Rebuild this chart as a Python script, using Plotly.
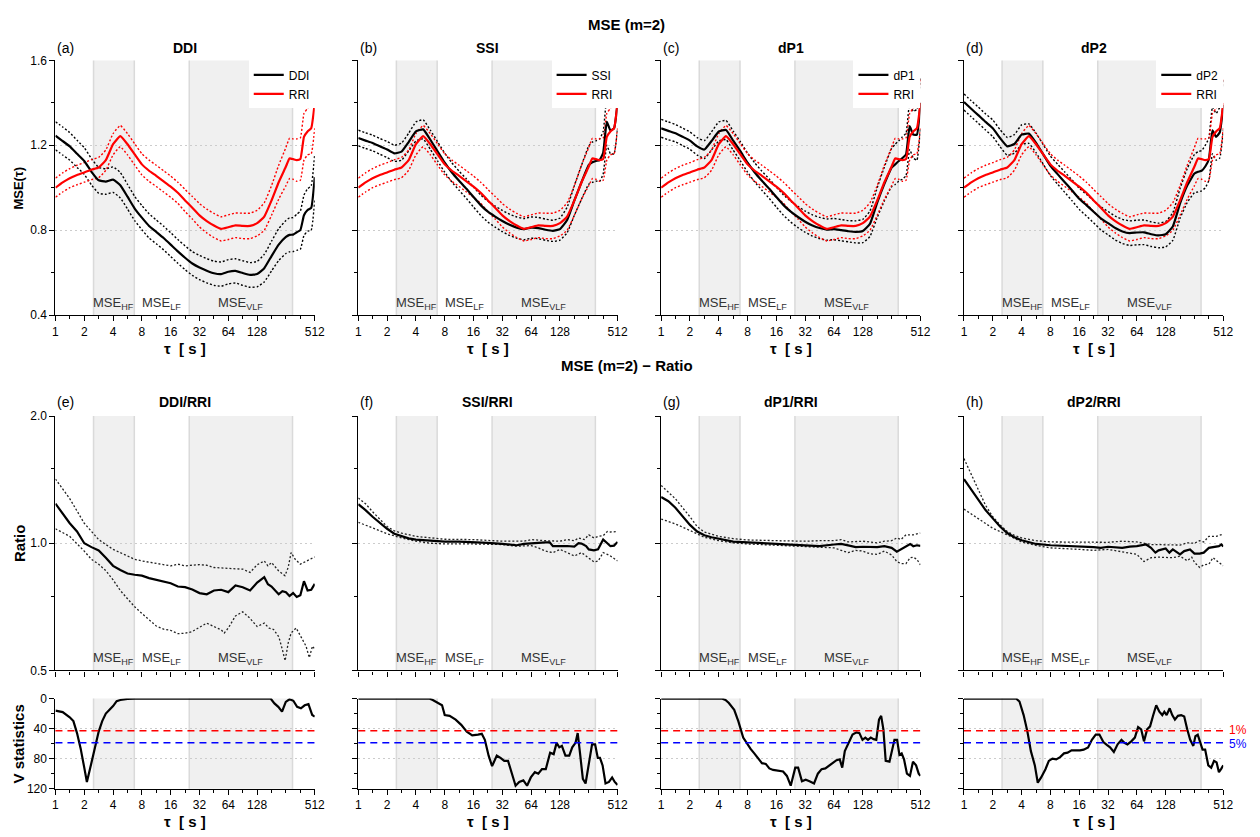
import math
import plotly.graph_objects as go

# ---------------- data ----------------
TAU = [1, 1.19, 1.41, 1.68, 2, 2.38, 2.83, 3.36, 4, 4.76, 5.66, 6.73, 8, 9.51, 11.3, 13.5,
       16, 19, 22.6, 26.9, 32, 38.1, 45.3, 53.8, 64, 76.1, 90.5, 108, 128, 152, 181, 215,
       256, 279, 304, 332, 362, 395, 431, 470, 512]

RRI_MSE = [1.00, 1.025, 1.045, 1.06, 1.072, 1.085, 1.095, 1.13, 1.205, 1.243, 1.205, 1.157,
           1.11, 1.08, 1.056, 1.03, 1.005, 0.976, 0.94, 0.906, 0.87, 0.843, 0.822, 0.806,
           0.814, 0.823, 0.82, 0.82, 0.833, 0.864, 0.94, 1.026, 1.10, 1.138, 1.135, 1.13,
           1.135, 1.24, 1.265, 1.28, 1.40]
RRI_SD = [0.045, 0.045, 0.045, 0.046, 0.046, 0.047, 0.048, 0.048, 0.05, 0.05, 0.05, 0.05,
          0.05, 0.05, 0.05, 0.05, 0.05, 0.05, 0.052, 0.053, 0.055, 0.056, 0.057, 0.057,
          0.058, 0.058, 0.06, 0.06, 0.06, 0.065, 0.07, 0.08, 0.09, 0.095, 0.095, 0.10,
          0.10, 0.11, 0.11, 0.12, 0.12]

DDI_MSE = [1.245, 1.22, 1.195, 1.16, 1.126, 1.075, 1.035, 1.029, 1.038, 1.012, 0.958, 0.902,
           0.859, 0.82, 0.792, 0.763, 0.732, 0.70, 0.67, 0.643, 0.624, 0.609, 0.597, 0.593,
           0.604, 0.608, 0.598, 0.589, 0.593, 0.621, 0.678, 0.732, 0.768, 0.778, 0.779,
           0.79, 0.80, 0.87, 0.895, 0.905, 1.05]
DDI_SD = [0.066, 0.066, 0.065, 0.064, 0.063, 0.062, 0.061, 0.06, 0.06, 0.06, 0.058, 0.057,
          0.057, 0.057, 0.056, 0.056, 0.056, 0.056, 0.056, 0.056, 0.057, 0.057, 0.057, 0.057,
          0.057, 0.057, 0.058, 0.058, 0.06, 0.065, 0.07, 0.075, 0.078, 0.08, 0.08, 0.085,
          0.09, 0.095, 0.10, 0.105, 0.11]

SSI_MSE = [1.234, 1.222, 1.211, 1.195, 1.18, 1.162, 1.17, 1.215, 1.265, 1.275, 1.226, 1.172,
           1.118, 1.072, 1.033, 0.995, 0.956, 0.918, 0.887, 0.864, 0.843, 0.825, 0.812,
           0.805, 0.812, 0.81, 0.802, 0.797, 0.805, 0.848, 0.94, 1.026, 1.107, 1.12, 1.126,
           1.13, 1.165, 1.31, 1.27, 1.28, 1.40]
SSI_SD = [0.037, 0.037, 0.037, 0.037, 0.038, 0.038, 0.04, 0.042, 0.045, 0.045, 0.045, 0.045,
          0.045, 0.045, 0.045, 0.046, 0.047, 0.048, 0.049, 0.05, 0.05, 0.05, 0.05, 0.05,
          0.05, 0.05, 0.05, 0.05, 0.052, 0.06, 0.07, 0.08, 0.09, 0.095, 0.095, 0.10, 0.10,
          0.11, 0.11, 0.12, 0.12]

DP1_MSE = [1.28, 1.268, 1.257, 1.24, 1.222, 1.195, 1.18, 1.22, 1.265, 1.272, 1.222, 1.172,
           1.118, 1.072, 1.033, 0.995, 0.956, 0.918, 0.887, 0.862, 0.84, 0.822, 0.81, 0.803,
           0.805, 0.80, 0.795, 0.792, 0.796, 0.83, 0.93, 1.018, 1.095, 1.11, 1.126, 1.14,
           1.157, 1.29, 1.25, 1.25, 1.40]
DP1_SD = [0.042, 0.042, 0.041, 0.041, 0.041, 0.041, 0.042, 0.043, 0.045, 0.045, 0.045, 0.045,
          0.045, 0.045, 0.045, 0.046, 0.047, 0.048, 0.049, 0.05, 0.05, 0.05, 0.05, 0.05,
          0.05, 0.05, 0.05, 0.052, 0.055, 0.06, 0.07, 0.08, 0.09, 0.095, 0.095, 0.10, 0.10,
          0.11, 0.11, 0.12, 0.12]

DP2_MSE = [1.404, 1.372, 1.342, 1.31, 1.28, 1.234, 1.195, 1.206, 1.25, 1.255, 1.211, 1.157,
           1.103, 1.064, 1.026, 0.987, 0.948, 0.918, 0.887, 0.856, 0.833, 0.81, 0.794,
           0.786, 0.789, 0.79, 0.781, 0.775, 0.781, 0.817, 0.926, 1.01, 1.067, 1.075, 1.08,
           1.10, 1.134, 1.27, 1.24, 1.26, 1.39]
DP2_SD = [0.038, 0.038, 0.038, 0.038, 0.039, 0.04, 0.042, 0.044, 0.046, 0.046, 0.046, 0.046,
          0.046, 0.047, 0.048, 0.049, 0.05, 0.051, 0.052, 0.054, 0.055, 0.056, 0.057, 0.058,
          0.058, 0.058, 0.058, 0.058, 0.06, 0.065, 0.07, 0.08, 0.09, 0.095, 0.095, 0.10,
          0.10, 0.11, 0.11, 0.12, 0.12]

# ratio panels
DDI_R_TAU = [1, 1.19, 1.41, 1.68, 2, 2.38, 2.83, 3.36, 4, 4.76, 5.66, 6.73, 8, 9.51, 11.3,
             13.5, 16, 19, 22.6, 26.9, 32, 38.1, 45.3, 53.8, 64, 76.1, 90.5, 108, 128, 152,
             166, 181, 197, 215, 235, 256, 279, 304, 332, 362, 395, 431, 470, 512]
DDI_R = [1.241, 1.176, 1.115, 1.066, 1.0, 0.979, 0.961, 0.924, 0.884, 0.864, 0.848, 0.842,
         0.838, 0.827, 0.819, 0.811, 0.804, 0.79, 0.787, 0.777, 0.762, 0.757, 0.773, 0.776,
         0.766, 0.794, 0.787, 0.773, 0.807, 0.831, 0.80, 0.79, 0.775, 0.757, 0.77, 0.766,
         0.75, 0.762, 0.746, 0.753, 0.813, 0.773, 0.776, 0.801]
DDI_R_HI_TAU = [1, 1.41, 2, 2.38, 2.83, 3.36, 4, 5.66, 6.73, 8, 11.3, 16, 19, 22.6, 32, 38.1,
                45.3, 64, 90.5, 108, 128, 152, 166, 181, 215, 250, 270, 290, 320, 362, 431,
                512]
DDI_R_HI = [1.419, 1.275, 1.115, 1.066, 1.02, 0.993, 0.967, 0.933, 0.916, 0.908, 0.895,
            0.884, 0.892, 0.884, 0.89, 0.887, 0.876, 0.871, 0.868, 0.853, 0.889, 0.908,
            0.884, 0.90, 0.86, 0.838, 0.876, 0.95, 0.916, 0.892, 0.908, 0.928]
DDI_R_LO_TAU = [1, 1.41, 2, 2.38, 2.83, 3.36, 4, 4.76, 5.66, 6.73, 8, 9.51, 11.3, 13.5, 16,
                19, 22.6, 26.9, 32, 38.1, 45.3, 53.8, 58, 64, 76.1, 90.5, 108, 128, 152, 170,
                190, 216, 235, 251, 270, 290, 327, 368, 415, 449, 485, 512]
DDI_R_LO = [1.082, 1.038, 0.958, 0.916, 0.892, 0.861, 0.819, 0.773, 0.739, 0.707, 0.682,
            0.659, 0.637, 0.626, 0.622, 0.611, 0.612, 0.618, 0.633, 0.647, 0.635, 0.624,
            0.613, 0.63, 0.673, 0.688, 0.664, 0.635, 0.647, 0.63, 0.625, 0.60, 0.56, 0.527,
            0.58, 0.613, 0.63, 0.602, 0.571, 0.536, 0.571, 0.561]

SSI_R_TAU = [1, 1.19, 1.41, 1.68, 2, 2.38, 2.83, 3.36, 4, 5.66, 8, 11.3, 16, 22.6, 32, 45.3,
             53.8, 64, 76.1, 90.5, 100, 108, 128, 152, 181, 200, 215, 240, 256, 290, 320,
             362, 400, 431, 470, 512]
SSI_R = [1.237, 1.198, 1.155, 1.115, 1.082, 1.053, 1.038, 1.027, 1.02, 1.013, 1.009, 1.009,
         1.007, 1.002, 0.996, 0.989, 0.996, 1.0, 1.002, 1.005, 1.005, 0.984, 0.984, 0.985,
         0.982, 1.0, 0.998, 0.985, 0.967, 0.962, 0.967, 1.02, 1.0, 0.984, 0.987, 1.007]
SSI_R_HI_TAU = [1, 1.19, 1.41, 1.68, 2, 2.38, 2.83, 4, 5.66, 8, 16, 32, 54, 64, 90, 128, 152,
                181, 200, 230, 256, 290, 320, 362, 400, 431, 512]
SSI_R_HI = [1.28, 1.24, 1.187, 1.14, 1.095, 1.07, 1.057, 1.038, 1.029, 1.022, 1.02, 1.011,
            1.011, 1.02, 1.014, 1.011, 1.02, 1.014, 1.029, 1.02, 1.047, 1.029, 1.038, 1.042,
            1.066, 1.063, 1.066]
SSI_R_LO_TAU = [1, 1.41, 2, 2.83, 4, 5.66, 8, 16, 32, 45, 64, 76, 90, 108, 128, 152, 181,
                215, 256, 290, 320, 362, 400, 431, 512]
SSI_R_LO = [1.121, 1.085, 1.053, 1.029, 1.011, 1.0, 0.996, 0.996, 0.993, 0.984, 0.987,
            0.975, 0.958, 0.95, 0.967, 0.95, 0.933, 0.95, 0.924, 0.903, 0.907, 0.95, 0.941,
            0.933, 0.908]

DP1_R_TAU = [1, 1.19, 1.41, 1.68, 2, 2.38, 2.83, 3.36, 4, 5.66, 8, 16, 32, 45, 64, 76, 90,
             108, 128, 152, 181, 215, 256, 290, 320, 362, 400, 431, 470, 512]
DP1_R = [1.286, 1.257, 1.213, 1.155, 1.105, 1.066, 1.044, 1.033, 1.024, 1.009, 1.005, 0.998,
         0.991, 0.984, 0.993, 0.996, 0.988, 0.979, 0.981, 0.979, 0.979, 0.984, 0.975, 0.955,
         0.967, 0.979, 0.996, 0.984, 0.989, 0.986]
DP1_R_HI_TAU = [1, 1.41, 2, 2.38, 2.83, 4, 5.66, 8, 16, 32, 45, 64, 76, 90, 128, 181, 215,
                256, 290, 320, 362, 431, 512]
DP1_R_HI = [1.37, 1.274, 1.155, 1.095, 1.063, 1.038, 1.025, 1.018, 1.014, 1.011, 1.014,
            1.014, 1.02, 1.007, 1.011, 1.002, 1.011, 1.014, 1.029, 1.02, 1.047, 1.047, 1.057]
DP1_R_LO_TAU = [1, 1.41, 2, 2.83, 4, 5.66, 8, 16, 32, 54, 64, 76, 90, 108, 128, 152, 181,
                215, 256, 290, 320, 362, 400, 431, 470, 512]
DP1_R_LO = [1.141, 1.111, 1.072, 1.033, 1.014, 1.002, 0.996, 0.989, 0.984, 0.979, 0.975,
            0.962, 0.95, 0.962, 0.958, 0.944, 0.941, 0.958, 0.938, 0.905, 0.895, 0.895,
            0.924, 0.927, 0.916, 0.889]

DP2_R_TAU = [1, 1.19, 1.41, 1.68, 2, 2.38, 2.83, 3.36, 4, 4.76, 5.66, 8, 11.3, 16, 22.6,
             26.9, 32, 45, 54, 64, 76, 80, 90, 100, 108, 128, 140, 152, 181, 200, 230, 256,
             290, 320, 362, 400, 460, 490, 512]
DP2_R = [1.419, 1.34, 1.264, 1.198, 1.145, 1.095, 1.057, 1.033, 1.016, 1.004, 0.996, 0.989,
         0.987, 0.984, 0.979, 0.975, 0.981, 0.975, 0.982, 0.984, 0.989, 0.993, 0.975, 0.95,
         0.962, 0.972, 0.95, 0.967, 0.941, 0.958, 0.967, 0.945, 0.945, 0.95, 0.975, 0.979,
         0.984, 0.993, 0.982]
DP2_R_HI_TAU = [1, 1.19, 1.41, 1.68, 2, 2.38, 2.83, 3.36, 4, 5.66, 8, 16, 32, 45, 64, 90,
                128, 181, 215, 256, 290, 320, 362, 431, 512]
DP2_R_HI = [1.586, 1.458, 1.333, 1.23, 1.155, 1.105, 1.066, 1.044, 1.029, 1.014, 1.007,
            1.007, 1.005, 1.011, 1.007, 0.993, 0.993, 0.99, 1.002, 1.0, 1.014, 1.007, 1.038,
            1.038, 1.051]
DP2_R_LO_TAU = [1, 1.41, 2, 2.83, 4, 5.66, 8, 16, 22.6, 32, 45, 64, 76, 90, 108, 128, 152,
                181, 215, 240, 256, 290, 320, 362, 400, 431, 512]
DP2_R_LO = [1.204, 1.145, 1.085, 1.047, 1.007, 0.988, 0.975, 0.967, 0.962, 0.967, 0.953,
            0.941, 0.905, 0.924, 0.927, 0.927, 0.924, 0.932, 0.909, 0.927, 0.901, 0.876,
            0.889, 0.892, 0.924, 0.911, 0.884]

# V statistics panels
V_DDI_TAU = [1, 1.19, 1.41, 1.54, 1.68, 1.83, 2, 2.13, 2.38, 2.59, 2.83, 3.08, 3.36, 3.67,
             4, 4.36, 4.76, 5.66, 6.73, 177, 194, 213, 233, 255, 279, 306, 335, 367, 402,
             440, 482, 512]
V_DDI = [16, 18, 25, 30, 46, 66, 92, 111, 85, 65, 44, 30, 20, 15, 10, 3.5, 2, 0.5, 0, 0,
         6.5, 11, 17.5, 4.4, 1, 3, 11, 13, 9, 7.5, 22, 24]

V_SSI_TAU = [1, 5.5, 6.0, 6.9, 7.5, 8, 9, 10.4, 11.9, 13.6, 15.5, 17.8, 19.5, 21, 23, 25,
             28, 30.6, 33.5, 36.7, 40, 44, 48, 53, 58, 63.5, 70, 76, 83, 91, 101, 110, 118,
             126, 134, 146, 160, 172, 186, 196, 207, 222, 237, 260, 277, 298, 318, 335, 357,
             383, 416, 449, 478, 512]
V_SSI = [0, 0, 2, 7, 9, 22, 23, 28, 35, 44, 49, 48, 47, 55, 76, 90, 76, 79, 83, 83, 100,
         116, 111, 109, 116, 105, 98, 100, 94, 94, 72, 74, 59, 65, 63, 76, 76, 65, 59, 46,
         72, 107, 113, 83, 61, 61, 79, 79, 89, 113, 111, 105, 111, 115]

V_DP1_TAU = [1, 4.3, 4.7, 5.1, 5.8, 6.4, 7.2, 7.9, 8.6, 9.4, 10.3, 11.3, 12.4, 13.5, 14.8,
             16.7, 18.8, 20.6, 22.6, 25.2, 27, 29.6, 32.4, 35.5, 39.6, 43.4, 47.5, 52, 57,
             62, 68, 73.5, 78, 83, 91, 100, 110, 118, 127, 136, 145, 155, 166, 177, 189,
             199, 210, 222, 243, 262, 274, 292, 309, 326, 345, 370, 398, 428, 461, 491, 512]
V_DP1 = [0, 0, 2, 6, 15, 30, 52, 60, 67, 73, 80, 86, 87, 93, 95, 96, 97, 103, 116, 92, 92,
         110, 108, 110, 113, 100, 94, 93, 89, 86, 82, 81, 92, 70, 59, 48, 45, 46, 55, 52,
         55, 52, 54, 55, 28, 23, 41, 83, 84, 68, 55, 55, 75, 73, 81, 100, 103, 84, 89, 100,
         103]

V_DP2_TAU = [1, 3.5, 3.8, 4.2, 4.6, 5.0, 5.5, 5.9, 6.4, 7.1, 7.7, 8.4, 9.2, 10.1, 11.1,
             12.1, 13.3, 14.6, 16.3, 17.8, 19.8, 21.7, 23.8, 26, 28.6, 31.3, 33.6, 36.8,
             40.3, 44.2, 47.5, 51, 56, 61, 66, 71, 76, 82, 88, 95, 102, 110, 118, 124, 131,
             141, 150, 160, 172, 186, 200, 215, 231, 249, 262, 277, 298, 311, 331, 357, 383,
             410, 436, 461, 485, 512]
V_DP2 = [0, 0, 4, 22, 44, 70, 89, 112, 105, 94, 83, 80, 81, 78, 73, 72, 69, 69, 69, 68, 65,
         55, 48, 48, 58, 62, 65, 71, 61, 55, 59, 61, 57, 52, 38, 41, 57, 41, 37, 22, 9,
         17.5, 22, 17.5, 22, 13, 22, 28, 23, 22, 24, 41, 55, 63, 50, 48, 59, 68, 68, 89, 92,
         83, 85, 98, 94, 89]

V_CRIT_1 = 42.8
V_CRIT_5 = 58.9

SIGNALS = ["DDI", "SSI", "dP1", "dP2"]
PANEL_LETTERS_TOP = ["(a)", "(b)", "(c)", "(d)"]
PANEL_LETTERS_MID = ["(e)", "(f)", "(g)", "(h)"]

X_TICKVALS = [1, 2, 4, 8, 16, 32, 64, 128, 512]
X_TICKTEXT = ["1", "2", "4", "8", "16", "32", "64", "128", "512"]
X_MINOR = [1.41, 2.83, 5.66, 11.3, 22.6, 45.3, 90.5, 181, 256, 362]
BAND_HF = (2.5, 6.67)
BAND_LF = (6.67, 25)
BAND_VLF = (25, 300)

# ---------------- layout helpers ----------------
W, H = 1260, 837
FONT = "Liberation Sans, Arial, sans-serif"
COLS = [(53, 315), (359, 621), (665, 927), (971, 1233)]
ROWS = [(54.3, 313.3), (416, 674.7), (703.3, 795)]
DOT = "2px,2px"
DASH = "7px,5px"


def xd(c):
    return [COLS[c][0] / W, COLS[c][1] / W]


def yd(r):
    return [1 - ROWS[r][1] / H, 1 - ROWS[r][0] / H]


def xn(n):
    return "x" if n == 1 else f"x{n}"


def yn(n):
    return "y" if n == 1 else f"y{n}"


def xkey(n):
    return "xaxis" if n == 1 else f"xaxis{n}"


def ykey(n):
    return "yaxis" if n == 1 else f"yaxis{n}"


fig = go.Figure()
layout = dict(
    width=W, height=H, margin=dict(l=0, r=0, t=0, b=0),
    paper_bgcolor="white", plot_bgcolor="white",
    font=dict(family=FONT, size=12, color="black"),
    showlegend=True,
)
shapes = []
annotations = []

top_data = [(DDI_MSE, DDI_SD), (SSI_MSE, SSI_SD), (DP1_MSE, DP1_SD), (DP2_MSE, DP2_SD)]
ratio_data = [
    (DDI_R_TAU, DDI_R, DDI_R_HI_TAU, DDI_R_HI, DDI_R_LO_TAU, DDI_R_LO),
    (SSI_R_TAU, SSI_R, SSI_R_HI_TAU, SSI_R_HI, SSI_R_LO_TAU, SSI_R_LO),
    (DP1_R_TAU, DP1_R, DP1_R_HI_TAU, DP1_R_HI, DP1_R_LO_TAU, DP1_R_LO),
    (DP2_R_TAU, DP2_R, DP2_R_HI_TAU, DP2_R_HI, DP2_R_LO_TAU, DP2_R_LO),
]
v_data = [(V_DDI_TAU, V_DDI), (V_SSI_TAU, V_SSI), (V_DP1_TAU, V_DP1), (V_DP2_TAU, V_DP2)]

GRID = dict(showgrid=True, gridcolor="#cccccc", griddash="2px,3px", gridwidth=1)
AX = dict(showline=True, linecolor="black", linewidth=1.2, ticks="outside", ticklen=5,
          tickwidth=1.2, tickcolor="black", zeroline=False,
          tickfont=dict(family=FONT, size=12, color="black"))


def xaxis_cfg(c, anchor, labels):
    return dict(AX, domain=xd(c), anchor=anchor, type="log",
                range=[0, math.log10(512)], tickmode="array", tickvals=X_TICKVALS,
                ticktext=X_TICKTEXT, showticklabels=labels, showgrid=False,
                minor=dict(tickmode="array", tickvals=X_MINOR, ticks="outside", ticklen=3,
                           tickwidth=1.2, tickcolor="black", showgrid=False))


def add_bands(n, with_labels, label_y):
    xr, yr = xn(n), f"{yn(n)} domain"
    for b in (BAND_HF, BAND_VLF):
        shapes.append(dict(type="rect", xref=xr, yref=yr, x0=b[0], x1=b[1], y0=0, y1=1,
                           fillcolor="#f0f0f0", line=dict(width=0), layer="below"))
    for xv in (BAND_HF[0], BAND_HF[1], BAND_VLF[0], BAND_VLF[1]):
        shapes.append(dict(type="line", xref=xr, yref=yr, x0=xv, x1=xv, y0=0, y1=1,
                           line=dict(color="#dadada", width=1.5), layer="below"))
    if with_labels:
        for txt, b in (("MSE<sub>HF</sub>", BAND_HF), ("MSE<sub>LF</sub>", BAND_LF),
                       ("MSE<sub>VLF</sub>", BAND_VLF)):
            centre = math.sqrt(b[0] * b[1])
            annotations.append(dict(xref=xr, yref=yr, x=math.log10(centre), y=label_y,
                                    text=txt, showarrow=False, xanchor="center",
                                    yanchor="middle",
                                    font=dict(family=FONT, size=13, color="#333333")))


for c in range(4):
    # ---------- top row: MSE ----------
    n = c + 1
    lg = "legend" if c == 0 else f"legend{c + 1}"
    layout[xkey(n)] = xaxis_cfg(c, yn(n), True)
    layout[ykey(n)] = dict(AX, **GRID, domain=yd(0), anchor=xn(n), range=[0.4, 1.6],
                           tickmode="array", tickvals=[0.4, 0.8, 1.2, 1.6],
                           ticktext=["0.4", "0.8", "1.2", "1.6"], showticklabels=(c == 0),
                           minor=dict(tickmode="array", tickvals=[0.6, 1.0, 1.4],
                                      ticks="outside", ticklen=3, tickwidth=1.2,
                                      tickcolor="black", showgrid=False))
    mean, sd = top_data[c]
    for m, s, col in ((mean, sd, "black"), (RRI_MSE, RRI_SD, "#ff0000")):
        up = [a + b for a, b in zip(m, s)]
        lo = [a - b for a, b in zip(m, s)]
        for band in (up, lo):
            fig.add_trace(go.Scatter(x=TAU, y=band, mode="lines", xaxis=xn(n),
                                     yaxis=yn(n), showlegend=False, hoverinfo="skip",
                                     line=dict(color=col, width=1.4, dash=DOT,
                                               shape="spline", smoothing=0.4)))
    for m, col, name in ((mean, "black", SIGNALS[c]), (RRI_MSE, "#ff0000", "RRI")):
        fig.add_trace(go.Scatter(x=TAU, y=m, mode="lines", xaxis=xn(n), yaxis=yn(n),
                                 name=name, legend=lg, showlegend=True,
                                 line=dict(color=col, width=2.2, shape="spline",
                                           smoothing=0.4)))
    layout[lg] = dict(x=COLS[c][1] / W, xanchor="right", y=yd(0)[1], yanchor="top",
                      bgcolor="white", borderwidth=0, itemwidth=30, tracegroupgap=0,
                      font=dict(family=FONT, size=12, color="black"))
    add_bands(n, True, 0.045)
    annotations.append(dict(xref="paper", yref="paper", x=COLS[c][0] / W, y=1 - 42 / H,
                            text=PANEL_LETTERS_TOP[c], showarrow=False, xanchor="left",
                            yanchor="middle", font=dict(family=FONT, size=14)))
    annotations.append(dict(xref="paper", yref="paper", x=(COLS[c][0] + COLS[c][1]) / 2 / W,
                            y=1 - 42 / H, text=f"<b>{SIGNALS[c]}</b>", showarrow=False,
                            xanchor="center", yanchor="middle", font=dict(family=FONT, size=14)))
    annotations.append(dict(xref="paper", yref="paper", x=(COLS[c][0] + COLS[c][1]) / 2 / W,
                            y=1 - 347 / H, text="<b>τ  [ s ]</b>", showarrow=False,
                            xanchor="center", yanchor="middle", font=dict(family=FONT, size=15)))

    # ---------- middle row: ratio ----------
    n = c + 5
    layout[xkey(n)] = xaxis_cfg(c, yn(n), False)
    layout[ykey(n)] = dict(AX, **GRID, domain=yd(1), anchor=xn(n), type="log",
                           range=[math.log10(0.5), math.log10(2.0)], tickmode="array",
                           tickvals=[0.5, 1.0, 2.0], ticktext=["0.5", "1.0", "2.0"],
                           showticklabels=(c == 0),
                           minor=dict(tickmode="array", tickvals=[0.75, 1.5],
                                      ticks="outside", ticklen=3, tickwidth=1.2,
                                      tickcolor="black", showgrid=False))
    rt, rv, ht, hv, lt, lv = ratio_data[c]
    for tx, ty in ((ht, hv), (lt, lv)):
        fig.add_trace(go.Scatter(x=tx, y=ty, mode="lines", xaxis=xn(n), yaxis=yn(n),
                                 showlegend=False, hoverinfo="skip",
                                 line=dict(color="#222222", width=1.3, dash=DOT)))
    fig.add_trace(go.Scatter(x=rt, y=rv, mode="lines", xaxis=xn(n), yaxis=yn(n),
                             showlegend=False, line=dict(color="black", width=2.2)))
    add_bands(n, True, 0.045)
    annotations.append(dict(xref="paper", yref="paper", x=COLS[c][0] / W, y=1 - 402 / H,
                            text=PANEL_LETTERS_MID[c], showarrow=False, xanchor="left",
                            yanchor="middle", font=dict(family=FONT, size=14)))
    annotations.append(dict(xref="paper", yref="paper", x=(COLS[c][0] + COLS[c][1]) / 2 / W,
                            y=1 - 402 / H, text=f"<b>{SIGNALS[c]}/RRI</b>", showarrow=False,
                            xanchor="center", yanchor="middle", font=dict(family=FONT, size=14)))

    # ---------- bottom row: V statistics ----------
    n = c + 9
    layout[xkey(n)] = xaxis_cfg(c, yn(n), True)
    layout[ykey(n)] = dict(AX, **GRID, domain=yd(2), anchor=xn(n), range=[120, 0],
                           tickmode="array", tickvals=[0, 40, 80, 120],
                           ticktext=["0", "40", "80", "120"], showticklabels=(c == 0),
                           minor=dict(tickmode="array", tickvals=[20, 60, 100],
                                      ticks="outside", ticklen=3, tickwidth=1.2,
                                      tickcolor="black", showgrid=False))
    add_bands(n, False, 0)
    for val, colr in ((V_CRIT_1, "#ff0000"), (V_CRIT_5, "#0000ff")):
        shapes.append(dict(type="line", xref=f"{xn(n)} domain", yref=yn(n), x0=0, x1=1,
                           y0=val, y1=val, line=dict(color=colr, width=1.5, dash=DASH),
                           layer="above"))
    vt, vv = v_data[c]
    fig.add_trace(go.Scatter(x=vt, y=vv, mode="lines", xaxis=xn(n), yaxis=yn(n),
                             showlegend=False, line=dict(color="black", width=2.2)))
    annotations.append(dict(xref="paper", yref="paper", x=(COLS[c][0] + COLS[c][1]) / 2 / W,
                            y=1 - 828 / H, text="<b>τ  [ s ]</b>", showarrow=False,
                            xanchor="center", yanchor="middle", font=dict(family=FONT, size=15)))

# critical value labels
annotations.append(dict(xref="paper", yref="y12", x=1237 / W, y=V_CRIT_1, text="1%",
                        showarrow=False, xanchor="left", yanchor="middle", yshift=1,
                        font=dict(family=FONT, size=12, color="#ff0000")))
annotations.append(dict(xref="paper", yref="y12", x=1237 / W, y=V_CRIT_5, text="5%",
                        showarrow=False, xanchor="left", yanchor="middle", yshift=-1,
                        font=dict(family=FONT, size=12, color="#0000ff")))

# y-axis titles
for txt, r, size in (("<b>MSE(τ)</b>", 0, 13), ("<b>Ratio</b>", 1, 15),
                     ("<b>V statistics</b>", 2, 15)):
    annotations.append(dict(xref="paper", yref="paper", x=16 / W,
                            y=1 - (ROWS[r][0] + ROWS[r][1]) / 2 / H, text=txt, textangle=-90,
                            showarrow=False, xanchor="center", yanchor="middle",
                            font=dict(family=FONT, size=size)))

# main titles
annotations.append(dict(xref="paper", yref="paper", x=630 / W, y=1 - 18 / H,
                        text="<b>MSE (m=2)</b>", showarrow=False, xanchor="center",
                        yanchor="middle", font=dict(family=FONT, size=15)))
annotations.append(dict(xref="paper", yref="paper", x=630 / W, y=1 - 365 / H,
                        text="<b>MSE (m=2) − Ratio</b>", showarrow=False, xanchor="center",
                        yanchor="middle", font=dict(family=FONT, size=15)))

layout["shapes"] = shapes
layout["annotations"] = annotations
fig.update_layout(**layout)

fig.write_html("out.html", config={"displayModeBar": False},
               post_script="document.body.style.margin='0px';")
